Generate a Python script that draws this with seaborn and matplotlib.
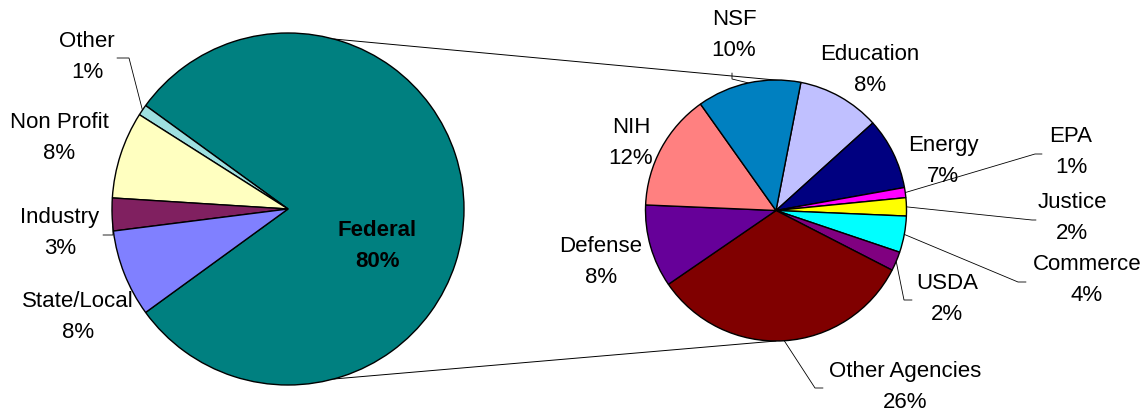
import numpy as np
import matplotlib
matplotlib.use("Agg")
import matplotlib.pyplot as plt
import seaborn as sns

# Funding sources, share of total (%)
sources = ['Federal', 'Other', 'Non Profit', 'Industry', 'State/Local']
source_share = [80, 1, 8, 3, 8]
source_colors = ['#008080', '#9EE0E0', '#FFFFC0', '#802060', '#8080FF']

# Federal funding split by agency, share of total (%)
agencies = ['Education', 'Energy', 'EPA', 'Justice', 'Commerce', 'USDA',
            'Other Agencies', 'Defense', 'NIH', 'NSF']
agency_share = [8.2, 7.1, 1.0, 1.8, 3.6, 1.9, 26.3, 8.2, 11.6, 10.3]
agency_colors = ['#C0C0FF', '#000080', '#FF00FF', '#FFFF00', '#00FFFF', '#800080',
                 '#800000', '#660099', '#FF8080', '#0080C0']

# label centres in pixel coords (x from left, y from top)
source_label_pos = [(377, 246), (87, 57), (59, 138), (60, 233), (78, 317)]
agency_label_pos = [(870, 70), (943, 161), (1071, 152), (1072, 218), (1087, 280),
                    (947, 299), (905, 387), (601, 262), (631, 143), (734, 35)]

W, H = 1148, 413

sns.set_style("white")
plt.rcParams['font.family'] = ['Liberation Sans', 'DejaVu Sans']

fig = plt.figure(figsize=(W / 100, H / 100), dpi=100)
ax = fig.add_axes([0, 0, 1, 1])


def px(x, y):
    """pixel coords (y down) -> data coords (y up)"""
    return x, H - y


wedge_style = dict(edgecolor='black', linewidth=1.0)

# left pie
c1, r1 = px(288, 209), 176
w1, _ = ax.pie(source_share, colors=source_colors, center=c1, radius=r1,
               startangle=-source_share[0] / sum(source_share) * 180,
               counterclock=True, wedgeprops=wedge_style, frame=True)

# right pie
c2, r2 = px(776, 210.5), 130.5
w2, _ = ax.pie(agency_share, colors=agency_colors, center=c2, radius=r2,
               startangle=79, counterclock=False, wedgeprops=wedge_style, frame=True)


def edge_point(center, r, ang):
    a = np.deg2rad(ang)
    return center[0] + r * np.cos(a), center[1] + r * np.sin(a)


def wedge_point(w, center, r, frac=0.5):
    ang = w.theta1 + frac * (w.theta2 - w.theta1)
    return edge_point(center, r, ang)


# connector lines between the pies
top_right = edge_point(c2, r2, w2[0].theta2)
bot_right = edge_point(c2, r2, -90)
for a_left, p_right in [(75, top_right), (-75, bot_right)]:
    p_left = edge_point(c1, r1, a_left)
    ax.plot([p_left[0], p_right[0]], [p_left[1], p_right[1]],
            color='black', lw=0.7, zorder=0)

# labels
for name, share, pos in zip(sources, source_share, source_label_pos):
    bold = name == 'Federal'
    ax.text(*px(*pos), f"{name}\n{share:.0f}%", ha='center', va='center',
            fontsize=16, linespacing=1.62, color='black',
            fontweight='bold' if bold else 'normal')

for name, share, pos in zip(agencies, agency_share, agency_label_pos):
    ax.text(*px(*pos), f"{name}\n{round(share):.0f}%", ha='center', va='center',
            fontsize=16, linespacing=1.62, color='black')

# leader lines: (wedge, centre, radius, fraction in wedge, path points in pixels)
leaders = [
    (w1[1], c1, r1, 0.5, [(129, 58), (117, 58)]),
    (w1[3], c1, r1, 0.84, [(113, 235), (103, 235)]),
    (w2[9], c2, r2, 0.5, [(732, 79), (732, 73)]),
    (w2[2], c2, r2, 0.5, [(1035, 154), (1042, 154)]),
    (w2[3], c2, r2, 0.5, [(1032, 220), (1036, 220)]),
    (w2[4], c2, r2, 0.5, [(1018, 282), (1026, 282)]),
    (w2[5], c2, r2, 0.5, [(904, 300), (912, 300)]),
    (w2[6], c2, r2, 0.5, [(815, 388), (823, 388)]),
]
for w, c, r, frac, path in leaders:
    pts = [wedge_point(w, c, r, frac)] + [px(*p) for p in path]
    xs, ys = zip(*pts)
    ax.plot(xs, ys, color='black', lw=0.6, zorder=0)

ax.set_xlim(0, W)
ax.set_ylim(0, H)
ax.axis('off')

fig.savefig('out.png', dpi=100, facecolor='white')
